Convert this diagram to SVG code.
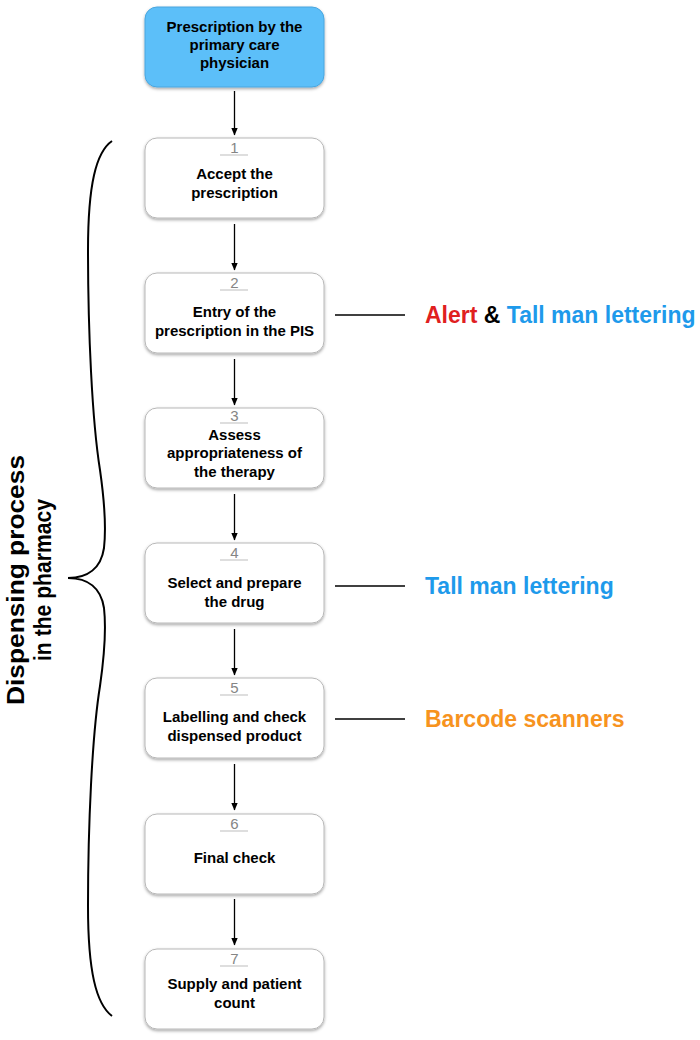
<svg xmlns="http://www.w3.org/2000/svg" width="700" height="1040" viewBox="0 0 700 1040">
<defs>
<filter id="sh" x="-10%" y="-10%" width="120%" height="130%">
<feDropShadow dx="0" dy="1.5" stdDeviation="1.4" flood-color="#000" flood-opacity="0.35"/>
</filter>
<marker id="ah" markerWidth="8" markerHeight="8" refX="7" refY="4" orient="auto" markerUnits="userSpaceOnUse">
<path d="M0,0.8 L7.5,4 L0,7.2 Z" fill="#000"/>
</marker>
<style>
.box{fill:#fff;stroke:#b8b8b8;stroke-width:1;filter:url(#sh)}
.top{fill:#5BBFF9;stroke:#4aa6de;stroke-width:1;filter:url(#sh)}
.t{font-family:"Liberation Sans",Arial,sans-serif;font-weight:bold;font-size:15px;fill:#000;text-anchor:middle}
.n{font-family:"Liberation Sans",Arial,sans-serif;font-size:15px;fill:#858585;text-anchor:middle}
.ul{stroke:#bdbdbd;stroke-width:1}
.conn{stroke:#000;stroke-width:1.3;fill:none}
.lbl{font-family:"Liberation Sans",Arial,sans-serif;font-weight:bold;font-size:23px}
.side{font-family:"Liberation Sans",Arial,sans-serif;font-weight:bold;font-size:24px;fill:#000;text-anchor:middle}
</style>
</defs>

<g id="connectors">
<line class="conn" x1="234.5" y1="91" x2="234.5" y2="135" marker-end="url(#ah)"/>
<line class="conn" x1="234.5" y1="224" x2="234.5" y2="270" marker-end="url(#ah)"/>
<line class="conn" x1="234.5" y1="359" x2="234.5" y2="405" marker-end="url(#ah)"/>
<line class="conn" x1="234.5" y1="494" x2="234.5" y2="540" marker-end="url(#ah)"/>
<line class="conn" x1="234.5" y1="629" x2="234.5" y2="675" marker-end="url(#ah)"/>
<line class="conn" x1="234.5" y1="764" x2="234.5" y2="810" marker-end="url(#ah)"/>
<line class="conn" x1="234.5" y1="899" x2="234.5" y2="945" marker-end="url(#ah)"/>
<line class="conn" x1="335" y1="315" x2="405" y2="315"/>
<line class="conn" x1="335" y1="586" x2="405" y2="586"/>
<line class="conn" x1="335" y1="719" x2="405" y2="719"/>
</g>

<g id="node-top">
<rect class="top" x="145" y="7" width="179" height="80" rx="12"/>
<text class="t" x="234.5" y="32">Prescription by the</text>
<text class="t" x="234.5" y="50">primary care</text>
<text class="t" x="234.5" y="68">physician</text>
</g>

<g id="node-1">
<rect class="box" x="145" y="138" width="179" height="80" rx="12"/>
<text class="n" x="234.5" y="153">1</text>
<line class="ul" x1="220" y1="155" x2="248" y2="155"/>
<text class="t" x="234.5" y="179">Accept the</text>
<text class="t" x="234.5" y="198">prescription</text>
</g>

<g id="node-2">
<rect class="box" x="145" y="273" width="179" height="80" rx="12"/>
<text class="n" x="234.5" y="288">2</text>
<line class="ul" x1="220" y1="290" x2="248" y2="290"/>
<text class="t" x="234.5" y="317">Entry of the</text>
<text class="t" x="234.5" y="336">prescription in the PIS</text>
</g>

<g id="node-3">
<rect class="box" x="145" y="408" width="179" height="80" rx="12"/>
<text class="n" x="234.5" y="421">3</text>
<line class="ul" x1="220" y1="423" x2="248" y2="423"/>
<text class="t" x="234.5" y="440">Assess</text>
<text class="t" x="234.5" y="458">appropriateness of</text>
<text class="t" x="234.5" y="477">the therapy</text>
</g>

<g id="node-4">
<rect class="box" x="145" y="543" width="179" height="80" rx="12"/>
<text class="n" x="234.5" y="558">4</text>
<line class="ul" x1="220" y1="560" x2="248" y2="560"/>
<text class="t" x="234.5" y="588">Select and prepare</text>
<text class="t" x="234.5" y="607">the drug</text>
</g>

<g id="node-5">
<rect class="box" x="145" y="678" width="179" height="80" rx="12"/>
<text class="n" x="234.5" y="693">5</text>
<line class="ul" x1="220" y1="695" x2="248" y2="695"/>
<text class="t" x="234.5" y="722">Labelling and check</text>
<text class="t" x="234.5" y="741">dispensed product</text>
</g>

<g id="node-6">
<rect class="box" x="145" y="814" width="179" height="80" rx="12"/>
<text class="n" x="234.5" y="829">6</text>
<line class="ul" x1="220" y1="831" x2="248" y2="831"/>
<text class="t" x="234.5" y="863">Final check</text>
</g>

<g id="node-7">
<rect class="box" x="145" y="949" width="179" height="80" rx="12"/>
<text class="n" x="234.5" y="964">7</text>
<line class="ul" x1="220" y1="966" x2="248" y2="966"/>
<text class="t" x="234.5" y="989">Supply and patient</text>
<text class="t" x="234.5" y="1008">count</text>
</g>

<g id="label-alert">
<text class="lbl" x="425" y="323"><tspan fill="#E0201F">Alert</tspan><tspan fill="#000"> &amp; </tspan><tspan fill="#1E9AEB">Tall man lettering</tspan></text>
</g>
<g id="label-tallman">
<text class="lbl" x="425" y="594" fill="#1E9AEB">Tall man lettering</text>
</g>
<g id="label-barcode">
<text class="lbl" x="425" y="727" fill="#F7931E">Barcode scanners</text>
</g>

<g id="brace">
<path d="M112,141 C96,152 88,185 88,250 C88,330 92,420 100,470 C105,505 106,530 104,548 C101,568 88,578 68,578 C88,578 101,588 104,608 C106,626 105,651 100,686 C92,736 88,826 88,906 C88,971 96,1004 112,1016" fill="none" stroke="#000" stroke-width="2"/>
<text class="side" transform="translate(24,580) rotate(-90)" textLength="250" lengthAdjust="spacingAndGlyphs">Dispensing process</text>
<text class="side" transform="translate(51,580) rotate(-90)" textLength="162" lengthAdjust="spacingAndGlyphs">in the pharmacy</text>
</g>
</svg>
